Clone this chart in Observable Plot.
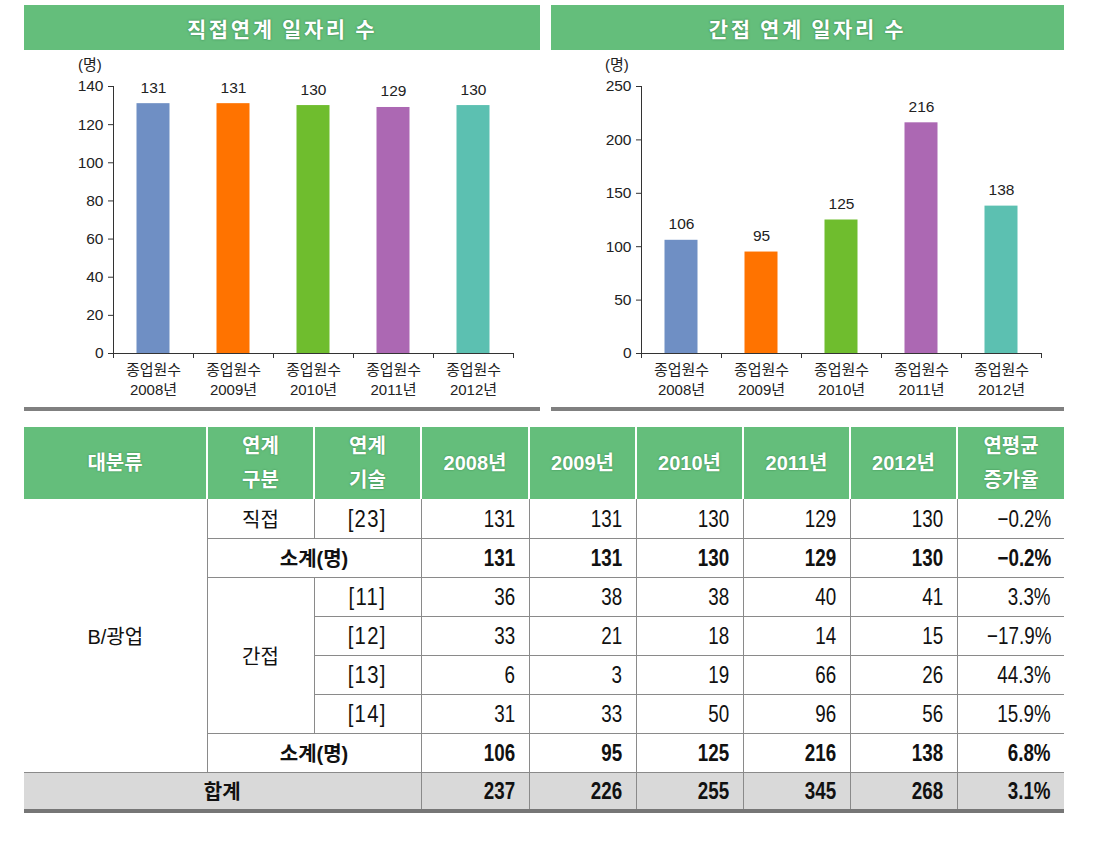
<!DOCTYPE html>
<html><head><meta charset="utf-8">
<script src="https://cdn.jsdelivr.net/npm/d3@7"></script>
<script src="https://cdn.jsdelivr.net/npm/@observablehq/plot@0.6"></script>
<style>
body{margin:0;background:#fff;width:1101px;height:849px;position:relative;overflow:hidden;font-family:"Liberation Sans","Noto Sans CJK KR",sans-serif;}
.title{position:absolute;top:5px;height:45px;background:#64be7b;color:#fff;font-weight:bold;font-size:21px;font-family:"Noto Sans CJK KR",sans-serif;letter-spacing:2.6px;display:flex;align-items:center;justify-content:center;text-shadow:0 0 2px rgba(30,100,50,.8);}
.unit{position:absolute;top:53px;font-size:15px;font-family:"Liberation Sans","Noto Sans CJK KR",sans-serif;color:#222}
.rule{position:absolute;top:407px;height:4px;background:#808080}
.chart{position:absolute;top:50px}
table{position:absolute;left:24px;top:427px;width:1040px;border-collapse:collapse;table-layout:fixed;color:#111}
th{height:72px;background:#64be7b;color:#fff;font-weight:bold;font-size:20px;line-height:34px;font-family:"Liberation Sans","Noto Sans CJK KR",sans-serif;border-left:2px solid #fff;padding:0;text-shadow:0 0 2px rgba(30,100,50,.6)}
th:first-child{border-left:none}
tbody tr{height:39px}
td{border-left:1px solid #8a8a8a;border-bottom:1px solid #8a8a8a;padding:0;text-align:center;vertical-align:middle;font-family:"Liberation Sans","Noto Sans CJK KR",sans-serif;font-size:20px}
td.n{text-align:right;padding-right:13px;font-size:23.5px;padding-top:2px}
td.n span{display:inline-block;transform:scaleX(0.8);transform-origin:right center}
td.br{font-size:23px;padding-top:2px}
td.br span{display:inline-block;transform:scaleX(0.88);letter-spacing:1.5px}
td.first{border-left:none}
tr.b td{font-weight:bold}
tr.tot td{background:#d9d9d9;border-top:1px solid #8a8a8a;border-bottom:4px solid #767676;font-weight:bold}
</style></head>
<body>
<div class="title" style="left:24px;width:516px">직접연계 일자리 수</div>
<div class="title" style="left:551px;width:513px">간접 연계 일자리 수</div>
<div class="unit" style="left:78px">(명)</div>
<div class="unit" style="left:605px">(명)</div>
<div id="c1" class="chart" style="left:24px"></div>
<div id="c2" class="chart" style="left:551px"></div>
<div class="rule" style="left:24px;width:516px"></div>
<div class="rule" style="left:551px;width:513px"></div>
<table id="tbl"></table>
<script>
// ---- chart data ----
const categories = ["종업원수\n2008년","종업원수\n2009년","종업원수\n2010년","종업원수\n2011년","종업원수\n2012년"];
const directValues = [131, 131, 130, 129, 130];
const indirectValues = [106, 95, 125, 216, 138];
const directTicks = [0, 20, 40, 60, 80, 100, 120, 140];
const indirectTicks = [0, 50, 100, 150, 200, 250];
const palette = ["#6f8fc4", "#ff7300", "#6fbd2e", "#ac68b3", "#5cc0b1"];

// ---- table data ----
const years = ["2008년","2009년","2010년","2011년","2012년"];
const directRow = {tech: "[23]", values: [131, 131, 130, 129, 130], rate: "−0.2%"};
const directSubtotal = {values: [131, 131, 130, 129, 130], rate: "−0.2%"};
const indirectRows = [
  {tech: "[11]", values: [36, 38, 38, 40, 41], rate: "3.3%"},
  {tech: "[12]", values: [33, 21, 18, 14, 15], rate: "−17.9%"},
  {tech: "[13]", values: [6, 3, 19, 66, 26], rate: "44.3%"},
  {tech: "[14]", values: [31, 33, 50, 96, 56], rate: "15.9%"}
];
const indirectSubtotal = {values: [106, 95, 125, 216, 138], rate: "6.8%"};
const total = {values: [237, 226, 255, 345, 268], rate: "3.1%"};

function barChart(values, ticks, width, marginLeft, marginRight) {
  const n = categories.length;
  const font = '"Liberation Sans","Noto Sans CJK KR",sans-serif';
  return Plot.plot({
    width, height: 356,
    marginLeft, marginRight, marginTop: 36, marginBottom: 53,
    style: {fontFamily: font, fontSize: "15px", color: "#222", background: "transparent", overflow: "visible"},
    x: {domain: [0, n]},
    y: {domain: [0, ticks[ticks.length - 1]]},
    color: {domain: categories, range: palette},
    marks: [
      Plot.rectY(values, {x1: (d, i) => i, x2: (d, i) => i + 1, y1: 0, y2: d => d, insetLeft: 23.5, insetRight: 23.5, fill: (d, i) => categories[i]}),
      Plot.text(values, {x: (d, i) => i + 0.5, y: d => d, text: d => String(d), lineAnchor: "bottom", dy: -11, fontSize: 15.5, fill: "#222"}),
      Plot.ruleY([0], {stroke: "#333"}),
      Plot.ruleX([0], {stroke: "#333"}),
      Plot.axisY({ticks, tickSize: 5, tickPadding: 5, label: null, fontSize: 15.5, stroke: "#333", fill: "#222"}),
      Plot.axisX({ticks: d3.range(n + 1), tickSize: 5, tickFormat: () => "", label: null, stroke: "#333"}),
      Plot.text(categories, {x: (d, i) => i + 0.5, frameAnchor: "bottom", lineAnchor: "top", dy: 8, text: d => d, lineHeight: 1.3, fontSize: 15, fill: "#222"})
    ]
  });
}

document.getElementById("c1").appendChild(barChart(directValues, directTicks, 516, 89, 27));
document.getElementById("c2").appendChild(barChart(indirectValues, indirectTicks, 513, 90, 23));

// ---- table ----
const colWidths = [183, 107, 107, 108, 107, 107, 107, 107, 107];
const tbl = document.getElementById("tbl");
let html = "<colgroup>" + colWidths.map(w => `<col style="width:${w}px">`).join("") + "</colgroup>";
html += "<thead><tr><th>대분류</th><th>연계<br>구분</th><th>연계<br>기술</th>" +
  years.map(y => `<th>${y}</th>`).join("") + "<th>연평균<br>증가율</th></tr></thead><tbody>";
const nums = r => r.values.map(v => `<td class="n"><span>${v}</span></td>`).join("") + `<td class="n"><span>${r.rate}</span></td>`;
html += `<tr><td rowspan="7" class="first">B/광업</td><td>직접</td><td class="br"><span>${directRow.tech}</span></td>${nums(directRow)}</tr>`;
html += `<tr class="b"><td colspan="2">소계(명)</td>${nums(directSubtotal)}</tr>`;
indirectRows.forEach((r, i) => {
  html += "<tr>" + (i === 0 ? `<td rowspan="${indirectRows.length}">간접</td>` : "") + `<td class="br"><span>${r.tech}</span></td>${nums(r)}</tr>`;
});
html += `<tr class="b"><td colspan="2">소계(명)</td>${nums(indirectSubtotal)}</tr>`;
html += `<tr class="tot"><td colspan="3" class="first">합계</td>${nums(total)}</tr>`;
html += "</tbody>";
tbl.innerHTML = html;
</script>
</body></html>
